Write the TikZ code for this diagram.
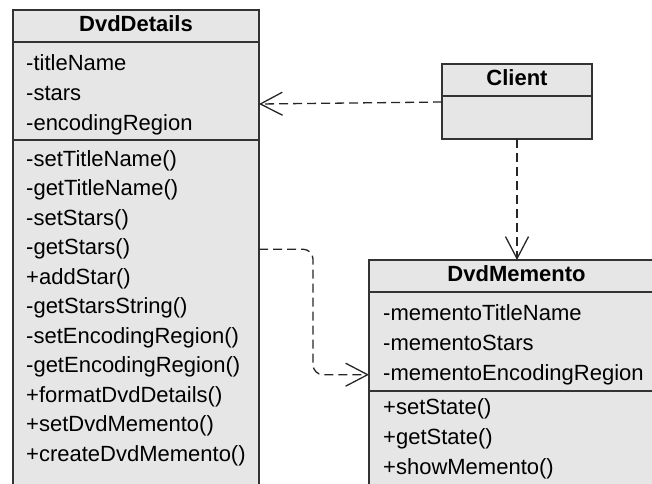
\documentclass[tikz,border=0pt]{standalone}
\usepackage{fontspec}
\setmainfont{Liberation Sans}
\usetikzlibrary{arrows.meta,positioning}
\definecolor{uml-fill}{HTML}{E6E6E6}
\definecolor{uml-line}{HTML}{333333}

\begin{document}
\begin{tikzpicture}[x=1pt, y=-1pt, >={Straight Barb[length=22pt,width=23pt]}, node distance=30pt]
  \tikzstyle{classhead}=[draw=uml-line, fill=uml-fill, line width=1.4pt, inner sep=0pt, outer sep=0pt, minimum height=32pt, font=\fontsize{22}{26}\selectfont\bfseries, text height=15.5pt, text depth=4.5pt]
  \tikzstyle{classpart}=[draw=uml-line, fill=uml-fill, line width=1.4pt, inner sep=0pt, outer sep=0pt]
  \tikzstyle{member}=[inner sep=0pt, text width=320pt, align=left, font=\fontsize{22}{26}\selectfont, text height=15.5pt, text depth=4.5pt]
  \tikzstyle{dep}=[->, black!85, line width=1.3pt, dash pattern=on 9pt off 5pt]

  \useasboundingbox (0,0) rectangle (652,483);
  \clip (0,0) rectangle (652,483);

  %% DvdDetails
  \node[classhead, minimum width=246pt, anchor=north west] (ddH) at (13,10) {DvdDetails};
  \node[classpart, minimum width=246pt, minimum height=98pt, below=0pt of ddH] (ddA) {};
  \node[classpart, minimum width=246pt, minimum height=380pt, below=0pt of ddA] (ddM) {};

  \node[member, below right=12.5pt and 13pt of ddA.north west] (ddA1) {-titleName};
  \node[member] (ddA2) [below of=ddA1] {-stars};
  \node[member] (ddA3) [below of=ddA2] {-encodingRegion};

  \node[member, below right=10.5pt and 13pt of ddM.north west] (ddM1) {-setTitleName()};
  \node[member, node distance=29.5pt] (ddM2)  [below of=ddM1]  {-getTitleName()};
  \node[member, node distance=29.5pt] (ddM3)  [below of=ddM2]  {-setStars()};
  \node[member, node distance=29.5pt] (ddM4)  [below of=ddM3]  {-getStars()};
  \node[member, node distance=29.5pt] (ddM5)  [below of=ddM4]  {+addStar()};
  \node[member, node distance=29.5pt] (ddM6)  [below of=ddM5]  {-getStarsString()};
  \node[member, node distance=29.5pt] (ddM7)  [below of=ddM6]  {-setEncodingRegion()};
  \node[member, node distance=29.5pt] (ddM8)  [below of=ddM7]  {-getEncodingRegion()};
  \node[member, node distance=29.5pt] (ddM9)  [below of=ddM8]  {+formatDvdDetails()};
  \node[member, node distance=29.5pt] (ddM10) [below of=ddM9]  {+setDvdMemento()};
  \node[member, node distance=29.5pt] (ddM11) [below of=ddM10] {+createDvdMemento()};

  %% Client
  \node[classhead, minimum width=150pt, anchor=north west] (clH) at (442,64) {Client};
  \node[classpart, minimum width=150pt, minimum height=43pt, below=0pt of clH] (clB) {};

  %% DvdMemento
  \node[classhead, minimum width=295pt, anchor=north west] (dmH) at (369,260) {DvdMemento};
  \node[classpart, minimum width=295pt, minimum height=99pt, below=0pt of dmH] (dmA) {};
  \node[classpart, minimum width=295pt, minimum height=120pt, below=0pt of dmA] (dmM) {};

  \node[member, below right=12.5pt and 14pt of dmA.north west] (dmA1) {-mementoTitleName};
  \node[member] (dmA2) [below of=dmA1] {-mementoStars};
  \node[member] (dmA3) [below of=dmA2] {-mementoEncodingRegion};

  \node[member, below right=7.5pt and 14pt of dmM.north west] (dmM1) {+setState()};
  \node[member] (dmM2) [below of=dmM1] {+getState()};
  \node[member] (dmM3) [below of=dmM2] {+showMemento()};

  %% dependencies
  \draw[dep] ([yshift=-6pt]clB.north west) -- ([yshift=-13pt]ddA.east);
  \draw[dep] (clB.south) -- (clB.south |- dmH.north);
  \draw[dep, rounded corners=10pt] (ddM.east |- ddM4) -- ++(54,0) |- (dmA.west |- dmA3);
\end{tikzpicture}
\end{document}
